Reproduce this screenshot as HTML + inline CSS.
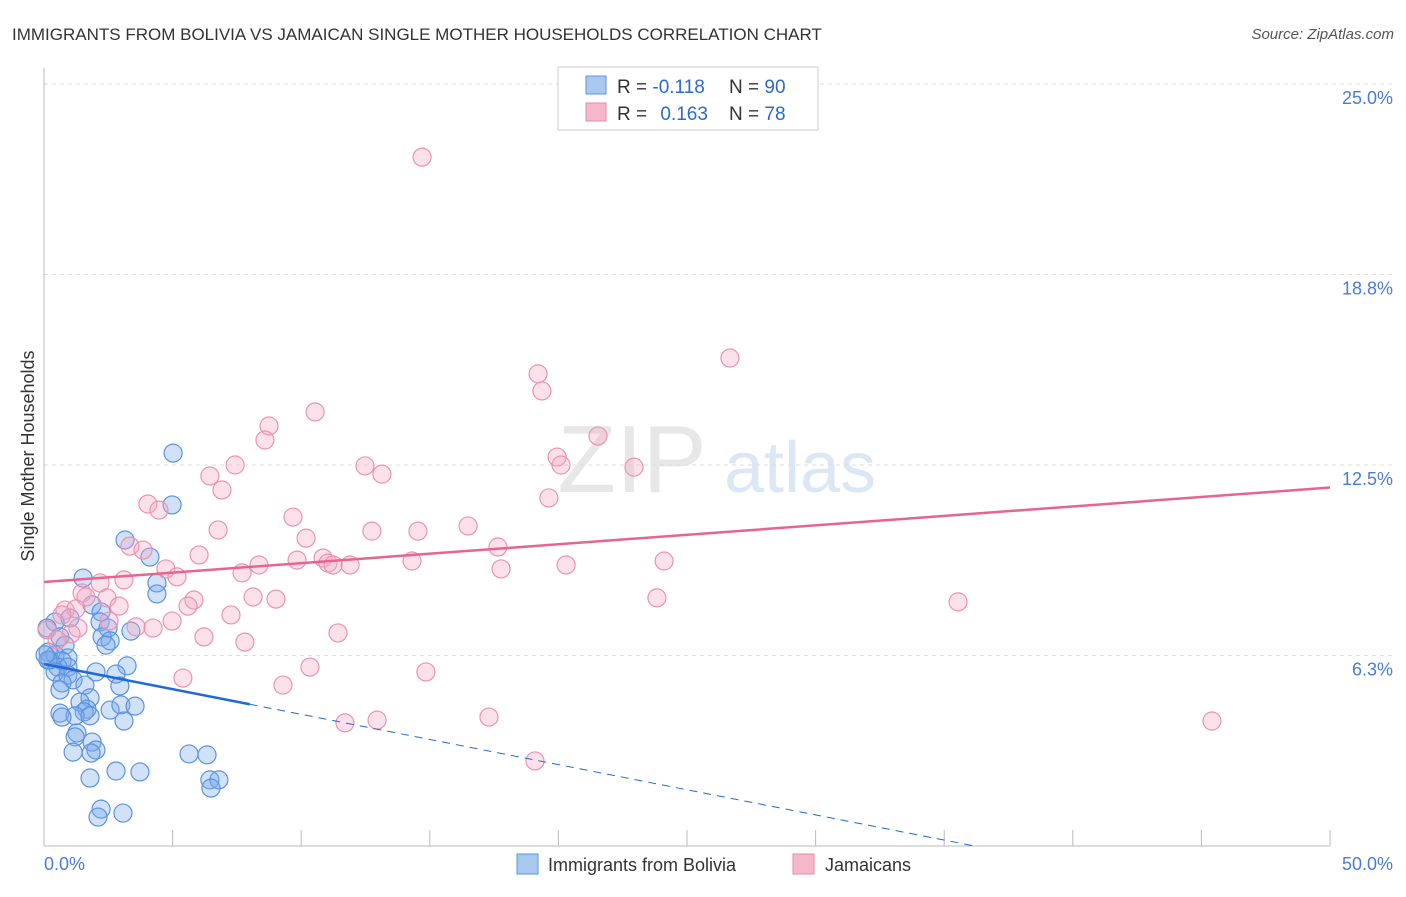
<!DOCTYPE html>
<html><head><meta charset="utf-8"><style>
body{margin:0;background:#fff;font-family:"Liberation Sans",sans-serif}
svg text{font-family:"Liberation Sans",sans-serif}
</style></head><body>
<svg id="chart" width="1406" height="892" viewBox="0 0 1406 892" xmlns="http://www.w3.org/2000/svg">
<text x="12" y="40" font-size="17" fill="#333">IMMIGRANTS FROM BOLIVIA VS JAMAICAN SINGLE MOTHER HOUSEHOLDS CORRELATION CHART</text>
<text x="1394" y="39" font-size="15" fill="#555" font-style="italic" text-anchor="end">Source: ZipAtlas.com</text>
<g opacity="0.35">
<text x="632" y="492" font-size="96" fill="#bbb" font-family="Liberation Serif" text-anchor="middle">ZIP</text>
<text x="800" y="492" font-size="72" fill="#9cbbe6" text-anchor="middle">atlas</text>
</g>
<g id="grid"></g>
<g id="axes"></g>
<g id="pts"></g>
<g id="lines"></g>
<text transform="translate(34,456) rotate(-90)" font-size="18" fill="#333" text-anchor="middle">Single Mother Households</text>
<text x="44" y="870" font-size="18" fill="#4a7cd4">0.0%</text>
<text x="1393" y="870" font-size="18" fill="#4a7cd4" text-anchor="end">50.0%</text>
<g>
<rect x="558" y="67" width="260" height="63" fill="#fff" stroke="#ccc"/>
<rect x="586" y="76" width="20" height="18" fill="#a9c8f0" stroke="#5b93dd"/>
<rect x="586" y="103" width="20" height="18" fill="#f5b8cb" stroke="#e98aa8"/>
<text x="617" y="93" font-size="19" fill="#333">R = <tspan fill="#2a6ad0">-0.118</tspan></text>
<text x="729" y="93" font-size="19" fill="#333">N = <tspan fill="#2a6ad0">90</tspan></text>
<text x="617" y="120" font-size="19" fill="#333">R = <tspan fill="#2a6ad0" dx="8">0.163</tspan></text>
<text x="729" y="120" font-size="19" fill="#333">N = <tspan fill="#2a6ad0">78</tspan></text>
</g>
<g>
<rect x="517" y="854" width="21" height="20" fill="#a9c8f0" stroke="#5b93dd"/>
<text x="548" y="871" font-size="18" fill="#333">Immigrants from Bolivia</text>
<rect x="793" y="854" width="21" height="20" fill="#f5b8cb" stroke="#e98aa8"/>
<text x="825" y="871" font-size="18" fill="#333">Jamaicans</text>
</g>
</svg>
<script>
const yTicks=[6.25,12.5,18.75,25];
const yTickLabels=["6.3%","12.5%","18.8%","25.0%"];
const xTicks=[5,10,15,20,25,30,35,40,45,50];
const blueX=[5.02,4.98,3.15,4.12,4.39,4.39,1.52,1.87,2.22,1.01,0.43,2.18,2.49,3.38,0.12,0.62,2.26,2.57,2.41,0.82,0.16,0.43,0.93,0.23,0.70,0.54,0.93,2.02,3.23,2.80,0.43,0.93,1.13,0.70,2.95,0.62,1.59,1.79,1.40,1.67,1.56,2.57,2.99,3.54,0.62,1.21,0.70,1.79,3.11,1.28,1.87,1.21,2.02,1.13,1.83,2.80,3.73,1.79,5.64,6.34,6.45,6.80,6.49,2.22,2.10,3.07,0.16,0.04];
const blueY=[12.89,11.19,10.04,9.48,8.63,8.27,8.79,7.91,7.68,7.48,7.35,7.35,7.15,7.05,7.15,6.86,6.86,6.73,6.59,6.59,6.36,6.27,6.17,6.10,6.07,5.87,5.87,5.71,5.91,5.64,5.71,5.61,5.45,5.35,5.25,5.12,5.28,4.86,4.72,4.49,4.40,4.46,4.63,4.59,4.36,4.27,4.23,4.27,4.10,3.71,3.41,3.58,3.15,3.08,3.05,2.46,2.43,2.23,3.02,2.99,2.17,2.17,1.90,1.21,0.95,1.08,6.10,6.27];
const pinkX=[14.70,26.67,19.21,19.36,10.54,8.75,8.59,21.54,7.43,12.48,19.95,20.10,22.94,13.14,6.45,6.92,19.63,4.04,4.47,9.68,16.49,6.77,14.54,12.75,10.19,17.65,3.34,3.85,6.03,8.36,9.84,10.85,11.04,11.24,11.90,14.31,24.11,17.77,20.30,4.74,7.70,5.17,3.11,2.18,1.48,1.63,2.45,5.83,8.13,9.02,23.83,35.54,2.92,5.60,0.82,1.24,7.27,4.98,2.53,3.58,1.32,4.24,0.12,11.43,6.22,7.81,1.05,5.40,10.34,14.85,9.29,11.70,12.95,17.30,19.09,45.41,0.51,0.70];
const pinkY=[22.60,16.01,15.49,14.93,14.24,13.78,13.32,13.45,12.50,12.47,12.76,12.50,12.43,12.20,12.14,11.68,11.42,11.22,11.02,10.79,10.50,10.37,10.33,10.33,10.10,9.81,9.84,9.71,9.55,9.22,9.38,9.45,9.28,9.22,9.22,9.35,9.35,9.09,9.22,9.09,8.96,8.83,8.73,8.63,8.30,8.17,8.14,8.07,8.17,8.10,8.14,8.01,7.87,7.87,7.74,7.78,7.58,7.38,7.38,7.19,7.15,7.15,7.09,6.99,6.86,6.69,6.96,5.51,5.87,5.71,5.28,4.04,4.13,4.23,2.79,4.10,6.76,7.58];
const blueTrend=[5.97,-0.165]; // intercept, slope
const pinkTrend=[8.66,0.062];
const NS="http://www.w3.org/2000/svg";
const sx=v=>44+v*25.72, sy=v=>846-v*30.48;
function mk(tag,attrs,parent){const e=document.createElementNS(NS,tag);for(const k in attrs)e.setAttribute(k,attrs[k]);document.getElementById(parent).appendChild(e);return e;}
yTicks.forEach((t,i)=>{
 const l=mk('line',{x1:44,x2:1393,y1:sy(t),y2:sy(t),stroke:'#ddd','stroke-dasharray':'4,4'},'grid');
 
 
 const tx=mk('text',{x:1393,y:sy(t)+20,'font-size':18,fill:'#4a7cd4','text-anchor':'end'},'grid');
 tx.textContent=yTickLabels[i];
 
 
});
const ax=mk('line',{x1:44,x2:44,y1:68,y2:846,stroke:'#bbb'},'axes');


const bx=mk('line',{x1:44,x2:1330,y1:846,y2:846,stroke:'#bbb'},'axes');


xTicks.forEach(t=>{
 const l=mk('line',{x1:sx(t),x2:sx(t),y1:830,y2:846,stroke:'#bbb'},'axes');
 
 
});
blueX.forEach((x,i)=>{
 const c=mk('circle',{cx:sx(x),cy:sy(blueY[i]),r:9,fill:'rgba(120,170,235,0.35)',stroke:'#5b93dd','stroke-width':1.2},'pts');
 
 
});
pinkX.forEach((x,i)=>{
 const c=mk('circle',{cx:sx(x),cy:sy(pinkY[i]),r:9,fill:'rgba(245,170,195,0.35)',stroke:'#ea93b0','stroke-width':1.2},'pts');
 
 
});
const bf=x=>blueTrend[0]+blueTrend[1]*x, pf=x=>pinkTrend[0]+pinkTrend[1]*x;
const b1=mk('line',{x1:sx(0),y1:sy(bf(0)),x2:sx(8),y2:sy(bf(8)),stroke:'#1f6ad6','stroke-width':2.5},'lines');


const xz=-blueTrend[0]/blueTrend[1];
const b2=mk('line',{x1:sx(8),y1:sy(bf(8)),x2:sx(xz),y2:sy(0),stroke:'#1f6ad6','stroke-width':1,'stroke-dasharray':'8,6'},'lines');


const p1=mk('line',{x1:sx(0),y1:sy(pf(0)),x2:sx(50),y2:sy(pf(50)),stroke:'#e8648f','stroke-width':2.5},'lines');


</script>
</body></html>
